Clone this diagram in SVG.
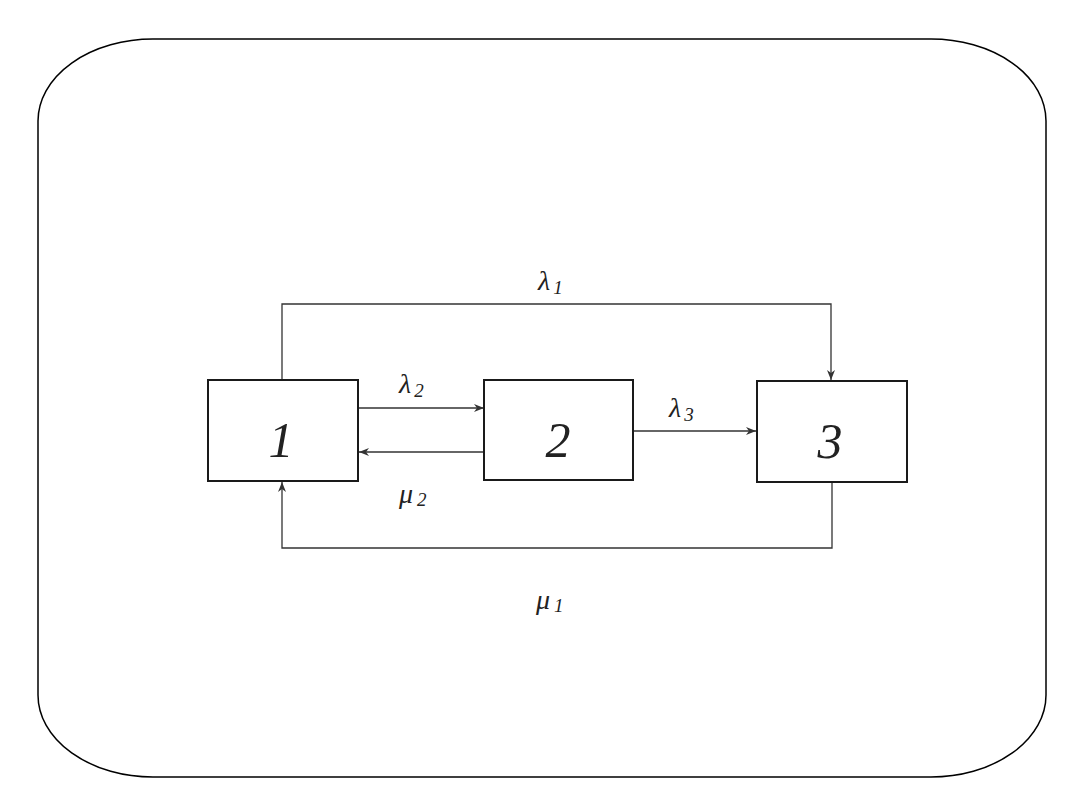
<svg xmlns="http://www.w3.org/2000/svg" width="1080" height="810" viewBox="0 0 1080 810">
<style>
.box{fill:#fff;stroke:#1a1a1a;stroke-width:2}
.conn{fill:none;stroke:#333;stroke-width:1.3}
.num{font-family:'Liberation Serif','Times New Roman',Times,serif;font-style:italic;font-size:50px;fill:#222;text-anchor:middle}
.lbl{font-family:'Liberation Serif','Times New Roman',Times,serif;font-style:italic;font-size:28px;fill:#222}
.sub{font-size:19px}
</style>
<defs>
<marker id="arr" viewBox="0 0 10 10" refX="10" refY="5" markerWidth="10" markerHeight="10" markerUnits="userSpaceOnUse" orient="auto">
<path d="M0,1 L10,5 L0,9 L3,5 Z" fill="#333"/>
</marker>
</defs>
<rect x="38" y="39" width="1008" height="738" rx="115" ry="82" fill="#fff" stroke="#000" stroke-width="1.5"/>
<g id="connectors">
<path class="conn" d="M282,380 V304 H831 V380" marker-end="url(#arr)"/>
<path class="conn" d="M358,408 H484" marker-end="url(#arr)"/>
<path class="conn" d="M484,452 H359" marker-end="url(#arr)"/>
<path class="conn" d="M633,431 H756" marker-end="url(#arr)"/>
<path class="conn" d="M832,482 V548 H282 V482" marker-end="url(#arr)"/>
</g>
<g id="node1"><rect class="box" x="208" y="380" width="150" height="101"/><text class="num" x="281" y="457">1</text></g>
<g id="node2"><rect class="box" x="484" y="380" width="149" height="100"/><text class="num" x="558" y="457">2</text></g>
<g id="node3"><rect class="box" x="757" y="381" width="150" height="101"/><text class="num" x="830" y="458">3</text></g>
<g id="labels">
<text class="lbl" x="538" y="290">λ<tspan class="sub" dx="3" dy="4">1</tspan></text>
<text class="lbl" x="399" y="393">λ<tspan class="sub" dx="3" dy="4">2</tspan></text>
<text class="lbl" x="669" y="417">λ<tspan class="sub" dx="3" dy="4">3</tspan></text>
<text class="lbl" x="399" y="503">μ<tspan class="sub" dx="4" dy="3">2</tspan></text>
<text class="lbl" x="536" y="609">μ<tspan class="sub" dx="4" dy="3">1</tspan></text>
</g>
</svg>
